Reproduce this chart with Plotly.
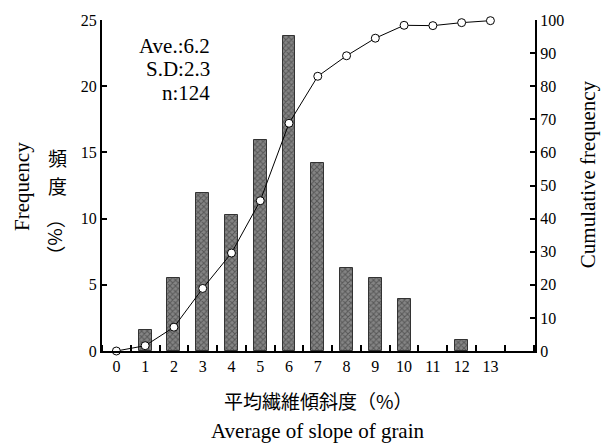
import plotly.graph_objects as go

# Data
categories = [1, 2, 3, 4, 5, 6, 7, 8, 9, 10, 12]
frequency = [1.6, 5.5, 11.9, 10.3, 15.9, 23.8, 14.2, 6.3, 5.5, 3.9, 0.8]
cum_x = [0, 1, 2, 3, 4, 5, 6, 7, 8, 9, 10, 11, 12, 13]
cum_freq = [0, 1.6, 7.2, 18.9, 29.6, 45.4, 68.8, 83.0, 89.2, 94.5, 98.4, 98.3, 99.2, 99.8]
x_tick_labels = [str(i) for i in range(14)]
stats_text = ["Ave.:6.2", "S.D:2.3", "n:124"]

W, H = 610, 445
L, R, T, B = 102, 535, 16, 351
SERIF = "Liberation Serif"
CJK = "Noto Sans CJK JP"


def px(x):
    return (x - L) / (R - L)


def py(y):
    return (B - y) / (B - T)


fig = go.Figure()
fig.add_trace(go.Bar(
    x=categories, y=frequency, width=0.45,
    marker=dict(color="#808080", line=dict(color="#333333", width=1),
                pattern=dict(shape="x", fgcolor="#2a2a2a", bgcolor="#858585", size=4, solidity=0.45)),
    yaxis="y", showlegend=False,
))
fig.add_trace(go.Scatter(
    x=cum_x, y=cum_freq, mode="lines+markers", yaxis="y2", cliponaxis=False,
    line=dict(color="black", width=1),
    marker=dict(symbol="circle", size=8, color="white", line=dict(color="black", width=1)),
    showlegend=False,
))

axis_font = dict(family=SERIF, size=16, color="black")
fig.update_layout(
    width=W, height=H,
    margin=dict(l=L, r=W - R, t=T, b=H - B),
    paper_bgcolor="white", plot_bgcolor="white",
    bargap=0,
    xaxis=dict(range=[-0.5, 14.55], tickvals=list(range(14)), ticktext=x_tick_labels,
               ticks="", tickfont=axis_font, showgrid=False, zeroline=False,
               showline=True, linecolor="black", linewidth=2,
               minor=dict(ticks="inside", tick0=0.5, dtick=1, ticklen=6, tickcolor="black", tickwidth=1.5, showgrid=False)),
    yaxis=dict(range=[0, 25], tickvals=[0, 5, 10, 15, 20, 25], ticks="inside", ticklen=5,
               tickwidth=1.5, tickcolor="black", tickfont=axis_font, showgrid=False,
               zeroline=False, showline=True, linecolor="black", linewidth=2),
    yaxis2=dict(range=[0, 100], tickvals=list(range(0, 101, 10)), overlaying="y", side="right",
                ticks="inside", ticklen=5, tickwidth=1.5, tickcolor="black", tickfont=axis_font,
                showgrid=False, zeroline=False, showline=True, linecolor="black", linewidth=2),
)


def ann(text, x, y, font, angle=0, xanchor="center"):
    return dict(text=text, x=px(x), y=py(y), xref="paper", yref="paper", textangle=angle,
                xanchor=xanchor, yanchor="middle", showarrow=False, font=font)


cjk_font = dict(family=CJK, size=19, color="black")
annotations = []
for i, t in enumerate(stats_text):
    annotations.append(ann(t, 212, 42 + 24 * i, dict(family=SERIF, size=21, color="black"), xanchor="right"))
annotations += [
    ann("Frequency", 22, 185, dict(family=SERIF, size=21, color="black"), -90),
    ann("頻", 57, 155, cjk_font),
    ann("度", 57, 183, cjk_font),
    ann("（%）", 57, 236, cjk_font, 90),
    ann("Cumulative frequency", 588, 172, dict(family=SERIF, size=21, color="black"), -90),
    ann("平均繊維傾斜度（%）", 318, 401, cjk_font),
    ann("Average of slope of grain", 318, 432, dict(family=SERIF, size=21, color="black")),
]
fig.update_layout(annotations=annotations)

fig.write_html("out.html")
